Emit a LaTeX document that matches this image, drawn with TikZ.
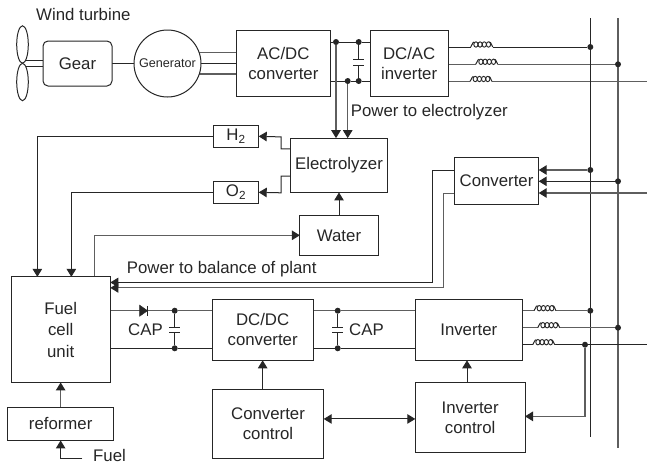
\documentclass[tikz,border=0pt]{standalone}
\usepackage{fontspec}
\setmainfont{Liberation Sans}
\usetikzlibrary{arrows.meta,positioning,calc,shapes.geometric}
\definecolor{ink}{HTML}{262626}
\definecolor{ashen}{HTML}{5E5E5E}
\newcommand{\lblfont}{\fontsize{16.8}{20}\selectfont}
\pgfdeclarelayer{wires}
\pgfsetlayers{wires,main}
\tikzset{
  box/.style={rectangle, draw=ink, fill=white, line width=1pt, inner sep=0pt, outer sep=0pt,
              align=center, font=\lblfont, text=ink},
  roundbox/.style={box, rounded corners=5pt},
  blade/.style={draw=ink, line width=1pt, ellipse, inner sep=0pt, minimum width=11.6pt, minimum height=37.4pt},
  lbl/.style={font=\lblfont, text=ink, inner sep=0pt, anchor=west},
  wire/.style={draw=ink, line width=1pt},
  gwire/.style={draw=ashen, line width=1.2pt},
  flow/.style={-{Triangle[length=8pt,width=9.5pt]}, draw=ink, line width=1pt},
  gflow/.style={-{Triangle[length=8pt,width=9.5pt,color=ink]}, draw=ashen, line width=1.2pt},
  bothflow/.style={{Triangle[length=8pt,width=9.5pt]}-{Triangle[length=8pt,width=9.5pt]}, draw=ink, line width=1pt},
  dot/.style={circle, fill=ink, inner sep=0pt, outer sep=0pt, minimum size=6pt},
  plate/.style={draw=ink, line width=1pt},
  coilpic/.pic={
    \draw[wire] (0,0) .. controls (1.5,-1) and (1.5,-5) .. (3.5,-5);
    \foreach \cx in {5.2,9.4,13.6,17.8}
      \draw[draw=ink, line width=.9pt] (\cx,-2.5) ellipse (2.1pt and 2.7pt);
    \draw[wire] (18.5,-5) .. controls (21,-5) and (20.5,-1) .. (22,0);
  }
}
\begin{document}
\begin{tikzpicture}[x=1pt, y=-1pt, node distance=20pt]
\useasboundingbox (0,0) rectangle (647,464);

% --- wind turbine
\node[lbl] (wind) at (36,14.5) {Wind turbine};
\node[roundbox, minimum width=69pt, minimum height=45pt] (gear) at (77.5,63.5) {Gear};
\node[box, circle, minimum size=67pt, right=22pt of gear] (gen) {\fontsize{12.6}{15}\selectfont Generator};
\node[box, minimum width=94.7pt, minimum height=65.3pt, right=35pt of gen] (acdc) {AC/DC\\converter};
\node[box, minimum width=77.7pt, minimum height=65.3pt, right=39.6pt of acdc] (dcac) {DC/AC\\inverter};
\node[blade] (bladea) at (22.5,44.5) {};
\node[blade] (bladeb) at (22.5,82) {};

% --- electrolyzer
\node[box, minimum width=97.4pt, minimum height=54.3pt, below right=42pt and -40.4pt of acdc] (elec) {Electrolyzer};
\node[box, minimum width=78.3pt, minimum height=39.7pt, below=23pt of elec] (water) {Water};
\node[box, minimum width=45.4pt, minimum height=21.7pt, above left=-9pt and 31.6pt of elec] (htwo) {H\textsubscript{2}};
\node[box, minimum width=45.4pt, minimum height=21.7pt, below left=-11pt and 31.6pt of elec] (otwo) {O\textsubscript{2}};
\node[box, minimum width=84.4pt, minimum height=46.7pt, below right=61.3pt and 6.3pt of dcac] (conv) {Converter};

% --- fuel cell row
\node[box, minimum width=99.3pt, minimum height=105.6pt, below left=73.7pt and 103pt of otwo] (fuel) {Fuel\\[1.5pt]cell\\[1.5pt]unit};
\node[box, minimum width=106pt, minimum height=33.3pt, below=24.7pt of fuel] (reform) {reformer};
\node[box, minimum width=100.7pt, minimum height=61.3pt, right=102pt of fuel] (dcdc) {DC/DC\\converter};
\node[box, minimum width=107pt, minimum height=61.3pt, right=102.3pt of dcdc] (inv) {Inverter};
\node[box, minimum width=111.4pt, minimum height=69pt, below=29pt of dcdc.south west, anchor=north west] (convctl) {Converter\\control};
\node[box, minimum width=109.7pt, minimum height=69.3pt, below=22.4pt of inv.south west, anchor=north west] (invctl) {Inverter\\control};
\node[draw=ink, fill=ink, isosceles triangle, isosceles triangle apex angle=70, inner sep=0pt, minimum height=8pt, minimum width=9.5pt] (diode) at (142.5,310.7) {};

% --- labels
\node[lbl] (pwel) at (350.7,112) {Power to electrolyzer};
\node[lbl] (pwbal) at (126.7,269.5) {Power to balance of plant};
\node[lbl] (capa) at (128,330) {CAP};
\node[lbl] (capb) at (349,330) {CAP};
\node[lbl] (fuelin) at (93,455) {Fuel};

% --- free ends
\coordinate (busat) at (590.3,18);
\coordinate (busab) at (590.3,436.7);
\coordinate (busbt) at (618,18);
\coordinate (busbb) at (618,448.3);
\coordinate (edgea) at (647,81.5);
\coordinate (edgeb) at (647,193);
\coordinate (edgec) at (647,344.7);
\coordinate (fuelst) at (82.3,458.3);

% --- junctions
\node[dot] (ja) at (336,42) {};
\node[dot] (jb) at (358.7,42) {};
\node[dot] (jc) at (347.7,81) {};
\node[dot] (jd) at (358.7,81) {};
\node[dot] (je) at (590.3,47) {};
\node[dot] (jf) at (618,64.3) {};
\node[dot] (jg) at (590.3,170) {};
\node[dot] (jh) at (618,181.3) {};
\node[dot] (ji) at (174.7,310.7) {};
\node[dot] (jj) at (174.7,348.3) {};
\node[dot] (jk) at (337.7,310.7) {};
\node[dot] (jl) at (337.7,348.3) {};
\node[dot] (jm) at (590.3,310.7) {};
\node[dot] (jn) at (618,327.7) {};
\node[dot] (jo) at (585,344.7) {};

\begin{pgfonlayer}{wires}
% --- turbine wiring
\draw[wire] (bladea.south) ++(3,-3.2) -- ++(17.5,0);
\draw[wire] (bladeb.north) ++(3,3.2) -- ++(17.5,0);
\draw[wire] (gear) -- (gen);
\draw[wire] (gen) -- (acdc);
\draw[gwire] (gen.center) ++(30.5,10.5) -- ++(38,0);
\draw[gwire] (gen.center) ++(30.5,-11) -- ++(38,0);

% --- dc link
\draw[wire] (acdc.east |- ja) -- (ja) -- (jb) -- (dcac.west |- jb);
\draw[wire] (acdc.east |- jc) -- (jc) -- (jd) -- (dcac.west |- jd);
\draw[wire] (jb) -- ++(0,17) coordinate (ctopa);
\draw[wire] (jd) -- ++(0,-16) coordinate (cbota);
\draw[plate] ($(ctopa)+(-5.5,0)$) -- ($(ctopa)+(5.5,0)$);
\draw[plate] ($(cbota)+(-5.5,0)$) -- ($(cbota)+(5.5,0)$);
\draw[gflow] (ja) -- (ja |- elec.north);
\draw[gflow] (jc) -- (jc |- elec.north);

% --- grid side, turbine
\draw[wire] (dcac.east |- je) -- (470.7,47) pic {coilpic} ++(22,0) -- (je);
\draw[gwire] (dcac.east |- jf) -- (475.7,64.3) pic {coilpic} ++(22,0) -- (jf);
\draw[gwire] (dcac.east |- edgea) -- (470,81.5) pic {coilpic} ++(22,0) -- (edgea);
\draw[wire] (busat) -- (busab);
\draw[gwire] (busbt) -- (busbb);

% --- gases and water
\draw[flow] ([yshift=16.4pt]elec.west) -| ++(-9.3,-12) -- (htwo.east);
\draw[flow] ([yshift=-10.8pt]elec.west) -| ++(-9.3,16.7) -- (otwo.east);
\draw[flow] (htwo.west) -| ([xshift=-23.3pt]fuel.north);
\draw[flow] (otwo.west) -| ([xshift=10.7pt]fuel.north);
\draw[flow] (water.north) -- (elec.south);
\draw[gflow] ([xshift=34.1pt]fuel.north) |- (water.west);

% --- converter
\draw[gflow] (jg) -- (jg -| conv.east);
\draw[flow] (jh) -- (jh -| conv.east);
\draw[gflow] (edgeb) -- (edgeb -| conv.east);
\draw[flow] ([yshift=10.4pt]conv.west) -- ++(-22.3,0) |- ([yshift=47.2pt]fuel.east);
\draw[gflow] ([yshift=-12.4pt]conv.west) -- ++(-10.6,0) |- ([yshift=41.8pt]fuel.east);

% --- fuel cell wiring
\draw[gwire] (fuel.east |- ji) -- (ji) -- (dcdc.west |- ji);
\draw[wire] (fuel.east |- jj) -- (jj) -- (dcdc.west |- jj);
\draw[plate] ($(diode.apex)+(0,-4.8)$) -- ($(diode.apex)+(0,4.8)$);
\draw[wire] (ji) -- ++(0,17) coordinate (ctopb);
\draw[wire] (jj) -- ++(0,-15.6) coordinate (cbotb);
\draw[plate] ($(ctopb)+(-5.5,0)$) -- ($(ctopb)+(5.5,0)$);
\draw[plate] ($(cbotb)+(-5.5,0)$) -- ($(cbotb)+(5.5,0)$);
\draw[gwire] (dcdc.east |- jk) -- (jk) -- (inv.west |- jk);
\draw[wire] (dcdc.east |- jl) -- (jl) -- (inv.west |- jl);
\draw[wire] (jk) -- ++(0,17) coordinate (ctopc);
\draw[wire] (jl) -- ++(0,-15.6) coordinate (cbotc);
\draw[plate] ($(ctopc)+(-5.5,0)$) -- ($(ctopc)+(5.5,0)$);
\draw[plate] ($(cbotc)+(-5.5,0)$) -- ($(cbotc)+(5.5,0)$);

% --- grid side, fuel cell
\draw[gwire] (inv.east |- jm) -- (534,310.7) pic {coilpic} ++(22,0) -- (jm);
\draw[gwire] (inv.east |- jn) -- (537.7,327.7) pic {coilpic} ++(22,0) -- (jn);
\draw[wire] (inv.east |- jo) -- (532.7,344.7) pic {coilpic} ++(22,0) -- (jo) -- (edgec);

% --- control
\draw[flow] (convctl.north -| dcdc.south) -- (dcdc.south);
\draw[flow] (invctl.north -| inv.south) ++(-1.8,0) -- ++(0,-22.4);
\draw[bothflow] ([yshift=-1.6pt]invctl.west -| convctl.east) -- ([yshift=-1.6pt]invctl.west);
\draw[gflow] (jo) |- ([yshift=1pt]invctl.east);

% --- reformer
\draw[gflow] (reform.north) -- (fuel.south -| reform.north);
\draw[flow] (fuelst) -| (reform.south);
\end{pgfonlayer}
\end{tikzpicture}
\end{document}
